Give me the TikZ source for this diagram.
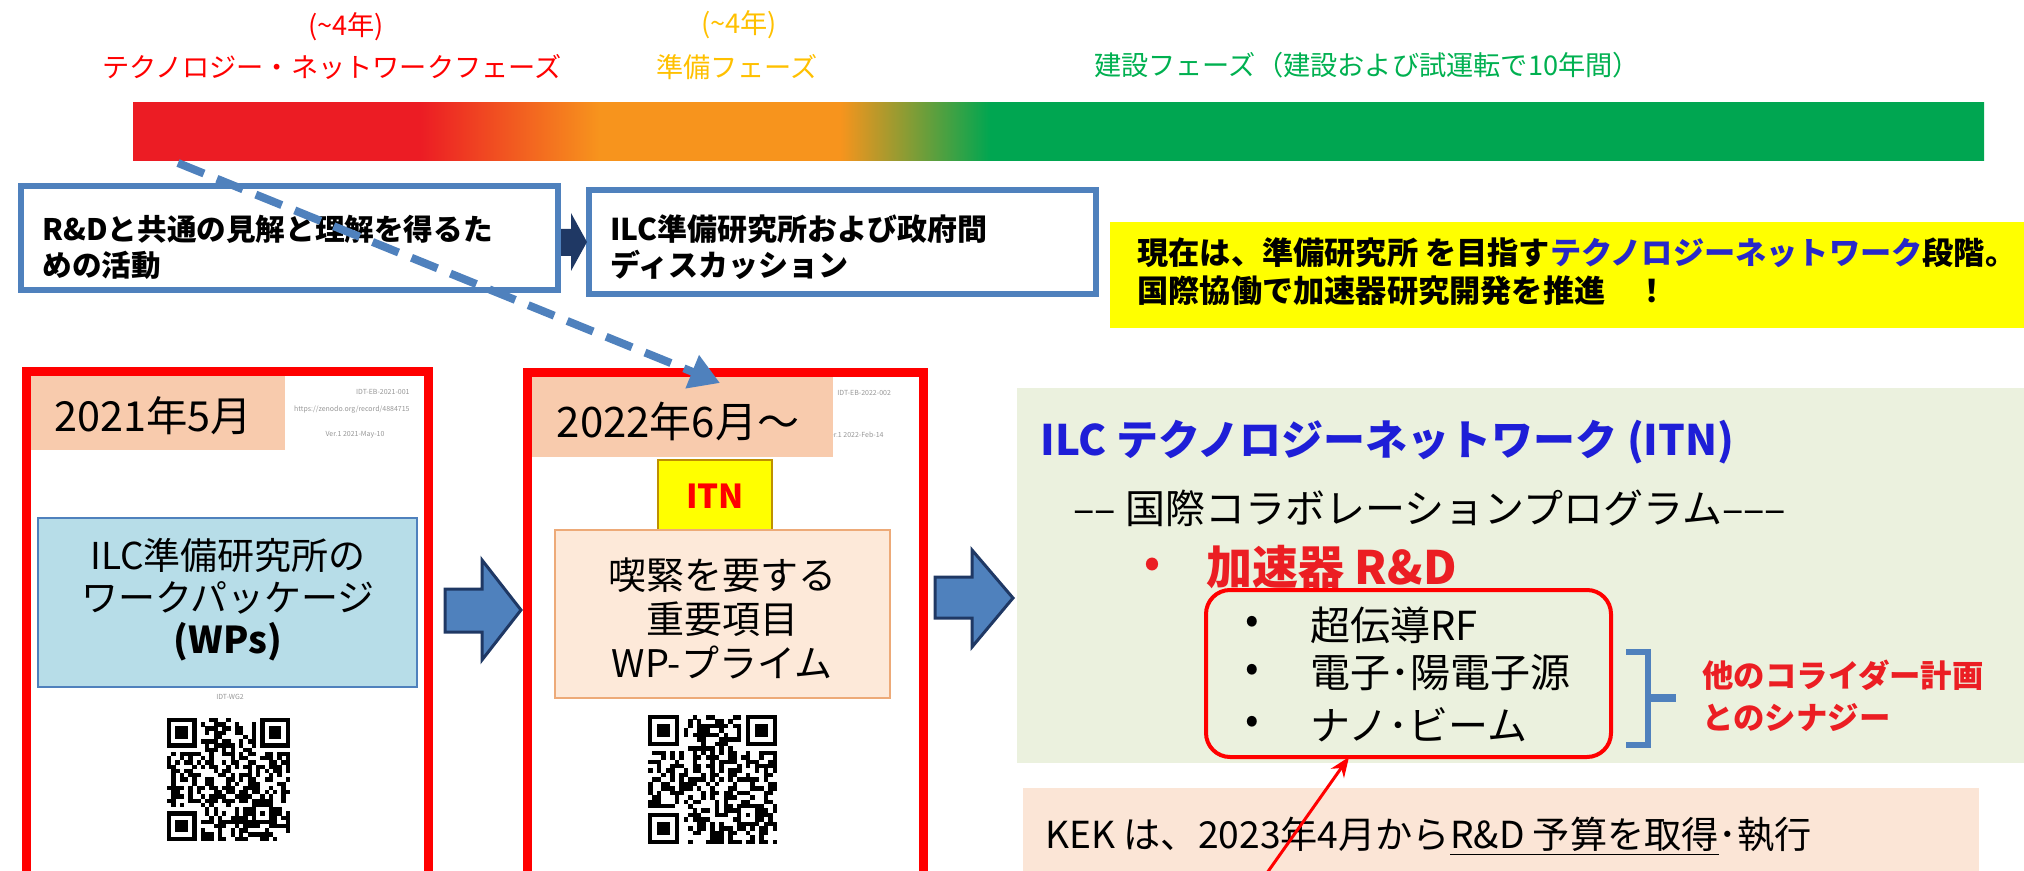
\documentclass[tikz,border=0pt]{standalone}
\usepackage{fontspec}
\setmainfont{Noto Sans CJK JP}
\usetikzlibrary{arrows.meta,fit}
\definecolor{barred}{RGB}{236,28,36}
\definecolor{barorange}{RGB}{247,148,29}
\definecolor{bargreen}{RGB}{0,166,81}
\definecolor{txtred}{RGB}{255,0,0}
\definecolor{txtorange}{RGB}{255,192,0}
\definecolor{txtgreen}{RGB}{0,176,80}
\definecolor{boxblue}{RGB}{79,129,189}
\definecolor{navy}{RGB}{31,56,100}
\definecolor{peach}{RGB}{248,203,173}
\definecolor{lightpeach}{RGB}{253,233,217}
\definecolor{peachedge}{RGB}{237,170,120}
\definecolor{lightblue}{RGB}{183,221,232}
\definecolor{greenbg}{RGB}{235,241,222}
\definecolor{kekbg}{RGB}{251,229,214}
\definecolor{titleblue}{RGB}{30,30,215}
\definecolor{ytblue}{RGB}{40,40,200}
\definecolor{itnedge}{RGB}{191,144,0}
\definecolor{docgray}{RGB}{150,150,150}
\definecolor{hlyellow}{RGB}{255,255,0}
\definecolor{accred}{RGB}{235,30,35}
\pgfdeclarehorizontalshading{phasebar}{100bp}{color(0bp)=(barred); color(32.75bp)=(barred); color(37.6bp)=(barorange); color(44.1bp)=(barorange); color(48.15bp)=(bargreen); color(100bp)=(bargreen)}
\newcommand\setfs[2]{\fontsize{#1}{#2}\selectfont}
\newcommand\qrcode[4]{%
  \pgfmathsetseed{#4}%
  \foreach \qi in {0,...,28}{\foreach \qj in {0,...,28}{%
    \pgfmathrandominteger{\qrbit}{0}{1}%
    \ifnum\qrbit=1\relax\fill[black] ({#1+\qi*#3},{#2+\qj*#3}) rectangle ++({1.02*#3},{1.02*#3});\fi}}%
  \foreach \qa/\qb in {0/0,21/0,0/21}{\fill[white] ({#1+\qa*#3},{#2+\qb*#3}) rectangle ++({8*#3},{8*#3});}%
  \foreach \qa/\qb in {0/0,22/0,0/22}{%
    \fill[black] ({#1+\qa*#3},{#2+\qb*#3}) rectangle ++({7*#3},{7*#3});
    \fill[white] ({#1+(\qa+1)*#3},{#2+(\qb+1)*#3}) rectangle ++({5*#3},{5*#3});
    \fill[black] ({#1+(\qa+2)*#3},{#2+(\qb+2)*#3}) rectangle ++({3*#3},{3*#3});}%
  \fill[black] ({#1+20*#3},{#2+20*#3}) rectangle ++({5*#3},{5*#3});
  \fill[white] ({#1+21*#3},{#2+21*#3}) rectangle ++({3*#3},{3*#3});
  \fill[black] ({#1+22*#3},{#2+22*#3}) rectangle ++(#3,#3);
}
\tikzset{
  phase/.style={inner sep=0pt, font=\setfs{13.6pt}{16pt}},
  txt/.style={inner sep=0pt},
  bluebox/.style={draw=boxblue, line width=3pt, fill=white, inner sep=0pt},
  frame/.style={draw=txtred, line width=4.5pt, inner sep=0pt},
  datelabel/.style={fill=peach, inner sep=0pt},
  doctext/.style={inner sep=0pt, text=docgray, font=\setfs{3.5pt}{4pt}},
  blockarrow/.style={fill=boxblue, draw=navy, line width=1.5pt, line join=miter},
  itembullet/.style={inner sep=0pt, font=\setfs{20pt}{22pt}},
  itemtext/.style={inner sep=0pt, anchor=west, font=\setfs{20pt}{22pt}},
}
\begin{document}
\begin{tikzpicture}[x=0.5pt,y=-0.5pt]
\useasboundingbox (0,0) rectangle (2024,871);
\clip (0,0) rectangle (2024,871);
% phase labels
\node[phase, text=txtred] (yr1) at (346,27) {(\textasciitilde 4年)};
\node[phase, text=txtred] (ph1) at (332,67) {テクノロジー・ネットワークフェーズ};
\node[phase, text=txtorange] (yr2) at (739,25) {(\textasciitilde 4年)};
\node[phase, text=txtorange] (ph2) at (737,67) {準備フェーズ};
\node[phase, text=txtgreen] (ph3) at (1367,65) {建設フェーズ（建設および試運転で10年間）};
% bar
\node[fit={(133,103) (1984,161)}, inner sep=0pt, shading=phasebar] (bar) {};
% blue boxes
\node[bluebox, fit={(21,186) (558,290)}] (box1) {};
\node[bluebox, fit={(589,190) (1096,294)}] (box2) {};
\fill[navy] (561,229) -- (571,229) -- (571,213) -- (587,242) -- (571,271) -- (571,256) -- (561,256) -- cycle;
\node[txt, anchor=west, align=left, font=\bfseries\setfs{14.8pt}{18pt}] (box1t) at (42,247) {R\&Dと共通の見解と理解を得るた\\めの活動};
\node[txt, anchor=west, align=left, font=\bfseries\setfs{15pt}{18pt}] (box2t) at (610,247) {ILC準備研究所および政府間\\ディスカッション};
% yellow note
\node[fill=hlyellow, inner sep=0pt, fit={(1110,222) (2040,328)}] (note) {};
\node[txt, anchor=west, align=left, font=\bfseries\setfs{15.6pt}{19pt}] (notet) at (1137,272) {現在は、準備研究所 を目指す\textcolor{ytblue}{テクノロジーネットワーク}段階。\\国際協働で加速器研究開発を推進　！};
% red frame 1 contents
\node[doctext, anchor=east] (d1a) at (410,392) {IDT-EB-2021-001};
\node[doctext, anchor=east] (d1b) at (410,410) {https://zenodo.org/record/4884715};
\node[doctext] (d1c) at (355,435) {Ver.1 2021-May-10};
\node[datelabel, fit={(31,372) (285,450)}] (lab1) {};
\node[txt, font=\setfs{20.7pt}{24pt}] (lab1t) at (153,416) {2021年5月};
\node[fill=lightblue, draw=boxblue, line width=0.8pt, inner sep=0pt, fit={(38,518) (417,687)}] (wp) {};
\node[txt, align=center, font=\setfs{18.5pt}{21pt}] (wpt) at (228,600) {ILC準備研究所の\\ワークパッケージ\\\textbf{(WPs)}};
\node[doctext] (d1d) at (230,697) {IDT-WG2};
\qrcode{167}{718}{4.24}{11}
\node[frame, fit={(26,372) (428,890)}] (frame1) {};
% red frame 2 contents
\node[doctext, anchor=west] (d2a) at (837,393) {IDT-EB-2022-002};
\node[doctext, anchor=east] (d2b) at (884,435) {Ver.1 2022-Feb-14};
\node[datelabel, fit={(532,377) (833,457)}] (lab2) {};
\node[txt, font=\setfs{21pt}{24pt}] (lab2t) at (678,421) {2022年6月～};
\node[fill=hlyellow, draw=itnedge, line width=0.8pt, inner sep=0pt, fit={(658,460) (772,530)}] (itn) {};
\node[txt, text=txtred, font=\bfseries\setfs{16.5pt}{18pt}] (itnt) at (715,496) {ITN};
\node[fill=lightpeach, draw=peachedge, line width=0.8pt, inner sep=0pt, fit={(555,530) (890,698)}] (wpp) {};
\node[txt, align=center, font=\setfs{19pt}{22pt}] (wppt) at (722,618) {喫緊を要する\\重要項目\\WP-プライム};
\qrcode{648}{715}{4.45}{23}
\node[frame, fit={(527,373) (923,890)}] (frame2) {};
% block arrows
\draw[blockarrow] (445,589) -- (482,589) -- (482,560) -- (521,610) -- (482,660) -- (482,632) -- (445,632) -- cycle;
\draw[blockarrow] (935,577) -- (972,577) -- (972,550) -- (1013,598) -- (972,647) -- (972,618) -- (935,618) -- cycle;
% green box
\node[fill=greenbg, inner sep=0pt, fit={(1017,388) (2040,763)}] (itnbox) {};
\node[txt, anchor=west, text=titleblue, font=\bfseries\setfs{21pt}{24pt}] (title) at (1040,442) {ILC テクノロジーネットワーク (ITN)};
\node[txt, anchor=west, font=\setfs{20pt}{24pt}] (sub) at (1073,508) {–– 国際コラボレーションプログラム–––};
\node[txt, text=accred, font=\bfseries\setfs{20pt}{22pt}] (accb) at (1152,567) {•};
\node[txt, anchor=west, text=accred, font=\bfseries\setfs{23pt}{26pt}] (acc) at (1206,567) {加速器 R\&D};
\node[draw=txtred, line width=2pt, rounded corners=12pt, inner sep=0pt, fit={(1206,590) (1611,757)}] (items) {};
\node[itembullet] (b1) at (1252,625) {•};
\node[itembullet] (b2) at (1252,673) {•};
\node[itembullet] (b3) at (1252,725) {•};
\node[itemtext] (i1) at (1310,625) {超伝導RF};
\node[itemtext] (i2) at (1310,673) {電子･陽電子源};
\node[itemtext] (i3) at (1310,725) {ナノ･ビーム};
\draw[boxblue, line width=3pt] (1626,652) -- (1648,652) -- (1648,745) -- (1626,745);
\draw[boxblue, line width=4pt] (1648,698) -- (1676,698);
\node[txt, anchor=west, align=left, text=accred, font=\bfseries\setfs{15.7pt}{21pt}] (syn) at (1702,696) {他のコライダー計画\\とのシナジー};
% KEK box
\node[fill=kekbg, inner sep=0pt, fit={(1023,788) (1979,890)}] (kek) {};
\node[txt, anchor=west, font=\setfs{18.6pt}{22pt}] (kekt) at (1045,836) {KEK は、2023年4月から\underline{R\&D 予算を取得}･執行};
% dashed arrow and red arrow
\coordinate (dstart) at (178,163);
\coordinate (dend) at (720,383);
\draw[boxblue, line width=4pt, dash pattern=on 14pt off 7pt, -{Triangle[length=15pt,width=17pt]}] (dstart) -- (dend);
\coordinate (rstart) at (1262,880);
\coordinate (rend) at (1349,757);
\draw[txtred, line width=1.5pt, -{Stealth[length=10pt,width=8pt]}] (rstart) -- (rend);
\end{tikzpicture}
\end{document}
